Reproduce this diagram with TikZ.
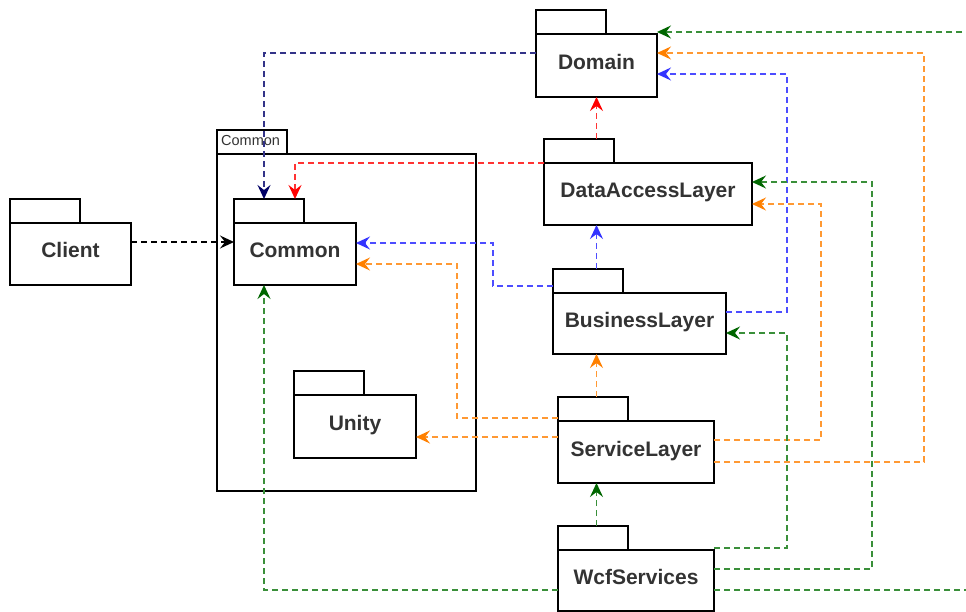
\documentclass[tikz,border=0pt]{standalone}
\usepackage{fontspec}
\setmainfont{Liberation Sans}
\usetikzlibrary{arrows.meta}

\definecolor{txtgray}{HTML}{333333}
\definecolor{navyl}{HTML}{333388}
\definecolor{navyc}{HTML}{000066}
\definecolor{redl}{HTML}{FF3333}
\definecolor{redc}{HTML}{FF0000}
\definecolor{bluel}{HTML}{4D4DFF}
\definecolor{bluec}{HTML}{3333FF}
\definecolor{orangel}{HTML}{FF9933}
\definecolor{orangec}{HTML}{FF8000}
\definecolor{greenl}{HTML}{3A8F3A}
\definecolor{greenc}{HTML}{006600}
\definecolor{blackl}{HTML}{000000}
\definecolor{blackc}{HTML}{000000}

\begin{document}
\begin{tikzpicture}[x=1pt,y=-1pt,
  pkbody/.style={draw=black, line width=1.4pt, inner sep=0pt, outer sep=0pt,
    anchor=north west, font=\bfseries\fontsize{21}{21}\selectfont,
    text=txtgray, text height=15pt, text depth=7pt},
  pktab/.style={draw=black, line width=1.4pt, fill=white, inner sep=0pt,
    outer sep=0pt, minimum width=70pt, minimum height=24pt, anchor=south west},
  dep/.style={line width=1.5pt, dash pattern=on 6pt off 4pt, draw=#1l,
    -{Stealth[length=14pt,width=13pt,inset=5pt,color=#1c]}},
]
\useasboundingbox (0,0) rectangle (966,612);
\fill[white] (0,0) rectangle (966,612);
\clip (0,0) rectangle (966,612);

% outer Common package
\node[pkbody, minimum width=259pt, minimum height=337pt] (co) at (217,154) {};
\node[pktab] (cotab) at (co.north west) {};
\node[font=\fontsize{14.5}{14.5}\selectfont, text=txtgray, anchor=base west,
  inner sep=0pt] (colbl) at ([xshift=4pt,yshift=-4pt]cotab.west) {Common};

% packages
\node[pkbody, fill=white, minimum width=121pt, minimum height=62pt] (cl) at (10,223) {Client};
\node[pktab] (cltab) at (cl.north west) {};

\node[pkbody, fill=white, minimum width=122pt, minimum height=62pt] (cm) at (234,223) {Common};
\node[pktab] (cmtab) at (cm.north west) {};

\node[pkbody, fill=white, minimum width=122pt, minimum height=63pt] (un) at (294,395) {Unity};
\node[pktab] (untab) at (un.north west) {};

\node[pkbody, fill=white, minimum width=121pt, minimum height=63pt] (dom) at (536,34) {Domain};
\node[pktab] (domtab) at (dom.north west) {};

\node[pkbody, fill=white, minimum width=208pt, minimum height=62pt] (dal) at (544,163) {DataAccessLayer};
\node[pktab] (daltab) at (dal.north west) {};

\node[pkbody, fill=white, minimum width=173pt, minimum height=61pt] (bl) at (553,293) {BusinessLayer};
\node[pktab] (bltab) at (bl.north west) {};

\node[pkbody, fill=white, minimum width=156pt, minimum height=62pt] (sl) at (558,421) {ServiceLayer};
\node[pktab] (sltab) at (sl.north west) {};

\node[pkbody, fill=white, minimum width=156pt, minimum height=61pt] (wc) at (558,550) {WcfServices};
\node[pktab] (wctab) at (wc.north west) {};

% dependencies
\draw[dep=navy] ([yshift=12.5pt]dom.west) -| ([xshift=-5pt]cmtab.north);

\draw[dep=red] (dom.south |- daltab.north) -- (dom.south);
\draw[dep=red] (dal.north west) -| (cm.north |- cmtab.north);

\draw[dep=blue] (dom.south |- bltab.north) -- (dom.south |- dal.south);
\draw[dep=blue] ([yshift=7pt]bl.north west) -- ++(-60,0) |- ([yshift=11pt]cm.east);
\draw[dep=blue] ([yshift=11.5pt]bl.east) -- ++(61,0) |- ([yshift=-8.5pt]dom.east);

\draw[dep=orange] (dom.south |- sltab.north) -- (dom.south |- bl.south);
\draw[dep=orange] ([yshift=3pt]sl.north west) -- ++(-101,0) |- ([yshift=-10pt]cm.east);
\draw[dep=orange] ([yshift=15pt]sl.west) -- ([yshift=-10.5pt]un.east);
\draw[dep=orange] ([yshift=12pt]sl.east) -- ++(107,0) |- ([yshift=-10pt]dal.east);
\draw[dep=orange] ([yshift=-10pt]sl.east) -- ++(210,0) |- ([yshift=12.5pt]dom.east);

\draw[dep=green] (dom.south |- wctab.north) -- (dom.south |- sl.south);
\draw[dep=green] ([yshift=2pt]wc.north east) -- ++(73,0) |- ([yshift=-9.5pt]bl.east);
\draw[dep=green] ([yshift=11.5pt]wc.east) -- ++(158,0) |- ([yshift=12pt]dal.east);
\draw[dep=green] ([yshift=-9.5pt]wc.east) -- ++(270,0) |- ([yshift=33.5pt]dom.east);
\draw[dep=green] ([yshift=-9.5pt]wc.west) -| ([xshift=-31pt]cm.south);

\draw[dep=black] ([yshift=12pt]cl.east) -- ([yshift=12pt]cm.west);
\end{tikzpicture}
\end{document}
